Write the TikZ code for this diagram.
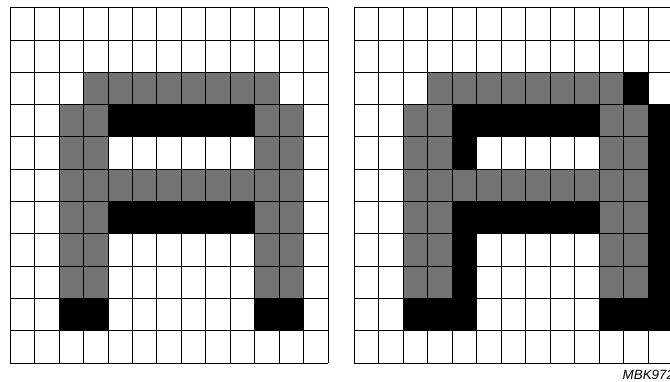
\documentclass[tikz,border=0pt]{standalone}
\usepackage{fontspec}
\setsansfont{Liberation Sans}
\usepackage{tikz}
\usetikzlibrary{positioning}

\begin{document}
\begin{tikzpicture}[
    cellgray/.style={fill=black!55},
    cellblack/.style={fill=black},
    gridline/.style={draw=black, line width=0.8pt},
    tag/.style={font=\sffamily\itshape\fontsize{13.4}{15}\selectfont, inner sep=0pt}
  ]
  \useasboundingbox (0,0) rectangle (670pt,-382pt);

  % left grid: the letter as it should be
  \begin{scope}[shift={(10pt,-7.7pt)}, x=24.48pt, y=-32.3pt]
    \foreach \c in {3,...,10} \fill[cellgray] (\c,2) rectangle ++(1,1);
    \foreach \r in {3,...,8}
      \foreach \c in {2,3,10,11} \fill[cellgray] (\c,\r) rectangle ++(1,1);
    \foreach \c in {4,...,9} \fill[cellgray] (\c,5) rectangle ++(1,1);
    \foreach \c in {4,...,9} {
      \fill[cellblack] (\c,3) rectangle ++(1,1);
      \fill[cellblack] (\c,6) rectangle ++(1,1);
    }
    \foreach \c in {2,3,10,11} \fill[cellblack] (\c,9) rectangle ++(1,1);
    \foreach \i in {0,...,13} \draw[gridline] (\i,0) -- (\i,11);
    \foreach \j in {0,...,11} \draw[gridline] (0,\j) -- (13,\j);
  \end{scope}

  % right grid: shifted black
  \begin{scope}[shift={(354.3pt,-7.7pt)}, x=24.48pt, y=-32.3pt]
    \foreach \c in {3,...,10} \fill[cellgray] (\c,2) rectangle ++(1,1);
    \foreach \r in {3,...,8}
      \foreach \c in {2,3,10,11} \fill[cellgray] (\c,\r) rectangle ++(1,1);
    \foreach \c in {4,...,9} \fill[cellgray] (\c,5) rectangle ++(1,1);
    \fill[cellblack] (11,2) rectangle ++(1,1);
    \foreach \c in {4,...,9} {
      \fill[cellblack] (\c,3) rectangle ++(1,1);
      \fill[cellblack] (\c,6) rectangle ++(1,1);
    }
    \foreach \r in {3,...,9} \fill[cellblack] (12,\r) rectangle ++(1,1);
    \foreach \r in {4,7,8} \fill[cellblack] (4,\r) rectangle ++(1,1);
    \foreach \c in {2,3,4,10,11} \fill[cellblack] (\c,9) rectangle ++(1,1);
    \foreach \i in {0,...,13} \draw[gridline] (\i,0) -- (\i,11);
    \foreach \j in {0,...,11} \draw[gridline] (0,\j) -- (13,\j);
  \end{scope}

  \node[tag, anchor=base west] (code) at (622.5pt,-380pt) {MBK972};
\end{tikzpicture}
\end{document}
